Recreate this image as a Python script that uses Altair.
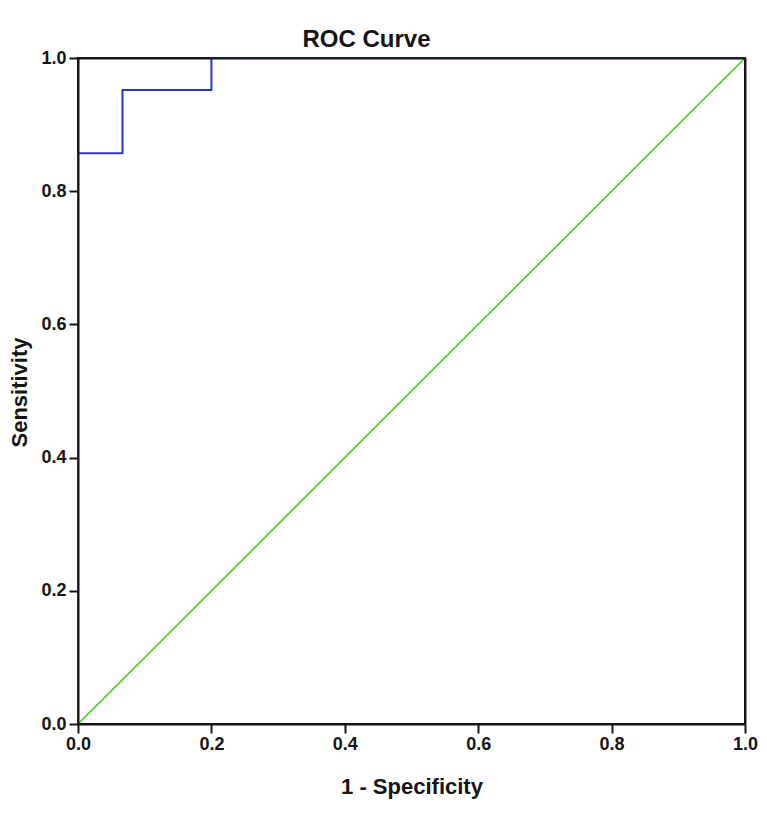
import altair as alt
import pandas as pd

# ROC curve points (1 - specificity, sensitivity)
roc_fpr = [0.0, 0.0, 0.0667, 0.0667, 0.2, 0.2, 1.0]
roc_tpr = [0.0, 0.857, 0.857, 0.952, 0.952, 1.0, 1.0]
# Reference line
ref_fpr = [0.0, 1.0]
ref_tpr = [0.0, 1.0]
tick_values = [0.0, 0.2, 0.4, 0.6, 0.8, 1.0]

roc_df = pd.DataFrame({"fpr": roc_fpr, "tpr": roc_tpr, "order": list(range(len(roc_fpr)))})
ref_df = pd.DataFrame({"fpr": ref_fpr, "tpr": ref_tpr, "order": [0, 1]})

FONT = "Liberation Sans"
INK = "#151515"

common_axis = dict(grid=False, domainColor=INK, domainWidth=2, zindex=1)

x_scale = alt.Scale(domain=[0, 1], nice=False, zero=False)
y_scale = alt.Scale(domain=[0, 1], nice=False, zero=False)

x_bottom = alt.X("fpr:Q", scale=x_scale,
                 axis=alt.Axis(values=tick_values, format=".1f", title="1 - Specificity",
                               tickColor=INK, tickWidth=2, tickSize=9,
                               labelFont=FONT, labelFontSize=18, labelFontWeight="bold",
                               labelColor=INK, labelPadding=2, labelFlush=False,
                               titleFont=FONT, titleFontSize=22, titleFontWeight="bold",
                               titleColor=INK, titleBaseline="alphabetic",
                               titleY=69, titleX=333.5, titleAlign="center",
                               **common_axis))
y_left = alt.Y("tpr:Q", scale=y_scale,
               axis=alt.Axis(values=tick_values, format=".1f", title="Sensitivity",
                             tickColor=INK, tickWidth=2, tickSize=9,
                             labelFont=FONT, labelFontSize=18, labelFontWeight="bold",
                             labelColor=INK, labelPadding=3, labelFlush=False,
                             titleFont=FONT, titleFontSize=22, titleFontWeight="bold",
                             titleColor=INK, titleAngle=-90, titleBaseline="alphabetic",
                             titleX=-52, titleY=334, titleAlign="center",
                             **common_axis))
x_top = alt.X("fpr:Q", scale=x_scale,
              axis=alt.Axis(orient="top", labels=False, ticks=False, title="", **common_axis))
y_right = alt.Y("tpr:Q", scale=y_scale,
                axis=alt.Axis(orient="right", labels=False, ticks=False, title="", **common_axis))

ref_line = alt.Chart(ref_df).mark_line(color="#3ccf1e", strokeWidth=1.6).encode(
    x=x_bottom, y=y_left, order="order:Q")
roc_line = alt.Chart(roc_df).mark_line(color="#2438c8", strokeWidth=2).encode(
    x=x_top, y=y_right, order="order:Q")

chart = alt.layer(ref_line, roc_line).resolve_scale(
    x="independent", y="independent"
).properties(
    width=667, height=666,
    title=alt.TitleParams("ROC Curve", font=FONT, fontSize=24, fontWeight="bold",
                          color=INK, dx=-45, dy=24, offset=2, baseline="alphabetic"),
    autosize=alt.AutoSizeParams(type="none"),
    padding={"left": 70, "top": 50, "right": 14, "bottom": 90},
).configure_view(stroke=INK, strokeWidth=2)

chart.save("out.html", embed_options={"renderer": "svg", "actions": False})
